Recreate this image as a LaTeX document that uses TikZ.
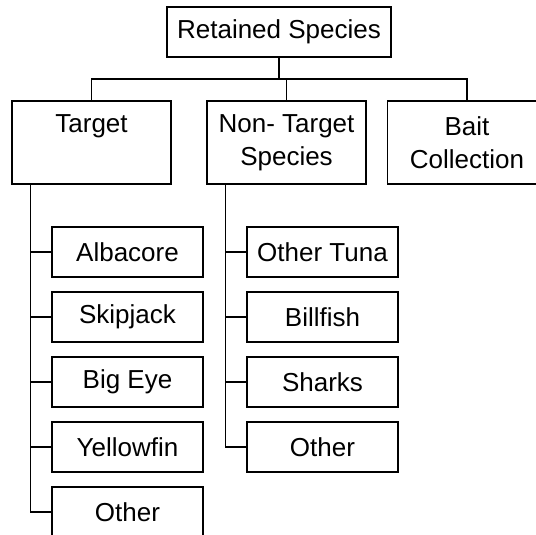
\documentclass[tikz,border=0pt]{standalone}
\usepackage{fontspec}
\setmainfont{Liberation Sans}
\begin{document}
\begin{tikzpicture}[x=1pt,y=-1pt,
  every node/.style={font=\fontsize{26}{33}\selectfont},
  box/.style={draw, line width=1.5pt, rectangle, inner sep=0pt, align=center},
  rootbox/.style={box, minimum width=224pt, minimum height=50pt},
  midbox/.style={box, minimum width=159pt, minimum height=83pt},
  leafbox/.style={box, minimum width=151pt, minimum height=50pt},
  conn/.style={line width=1.5pt}]
\clip (0,0) rectangle (536,535);
\fill[white] (0,0) rectangle (536,535);
\node[rootbox] (root) at (279,32) {Retained Species};
\node[midbox] (target) at (91.5,142.5) {Target\\\phantom{Species}};
\node[midbox] (nontarget) at (286.5,142.5) {Non- Target\\Species};
\node[midbox] (bait) at (467,142.5) {Bait\\Collection};
\coordinate (bus) at (279,79);
\draw[conn] (root.south) -- (bus);
\draw[conn] (bus) -| (target.north);
\draw[conn] (bus) -| (nontarget.north);
\draw[conn] (bus) -| (bait.north);
% target children
\node[leafbox] (t1) at (127.5,252) {Albacore};
\node[leafbox] (t2) at (127.5,317) {Skipjack};
\node[leafbox] (t3) at (127.5,382) {Big Eye};
\node[leafbox] (t4) at (127.5,447) {Yellowfin};
\node[leafbox] (t5) at (127.5,512) {Other};
\coordinate (ts) at ([xshift=19pt]target.south west);
\foreach \c in {t1,t2,t3,t4,t5} \draw[conn] (ts) |- (\c.west);
% non-target children
\node[leafbox] (n1) at (322.5,252) {Other Tuna};
\node[leafbox] (n2) at (322.5,317) {Billfish};
\node[leafbox] (n3) at (322.5,382) {Sharks};
\node[leafbox] (n4) at (322.5,447) {Other};
\coordinate (ns) at ([xshift=19pt]nontarget.south west);
\foreach \c in {n1,n2,n3,n4} \draw[conn] (ns) |- (\c.west);
\end{tikzpicture}
\end{document}
